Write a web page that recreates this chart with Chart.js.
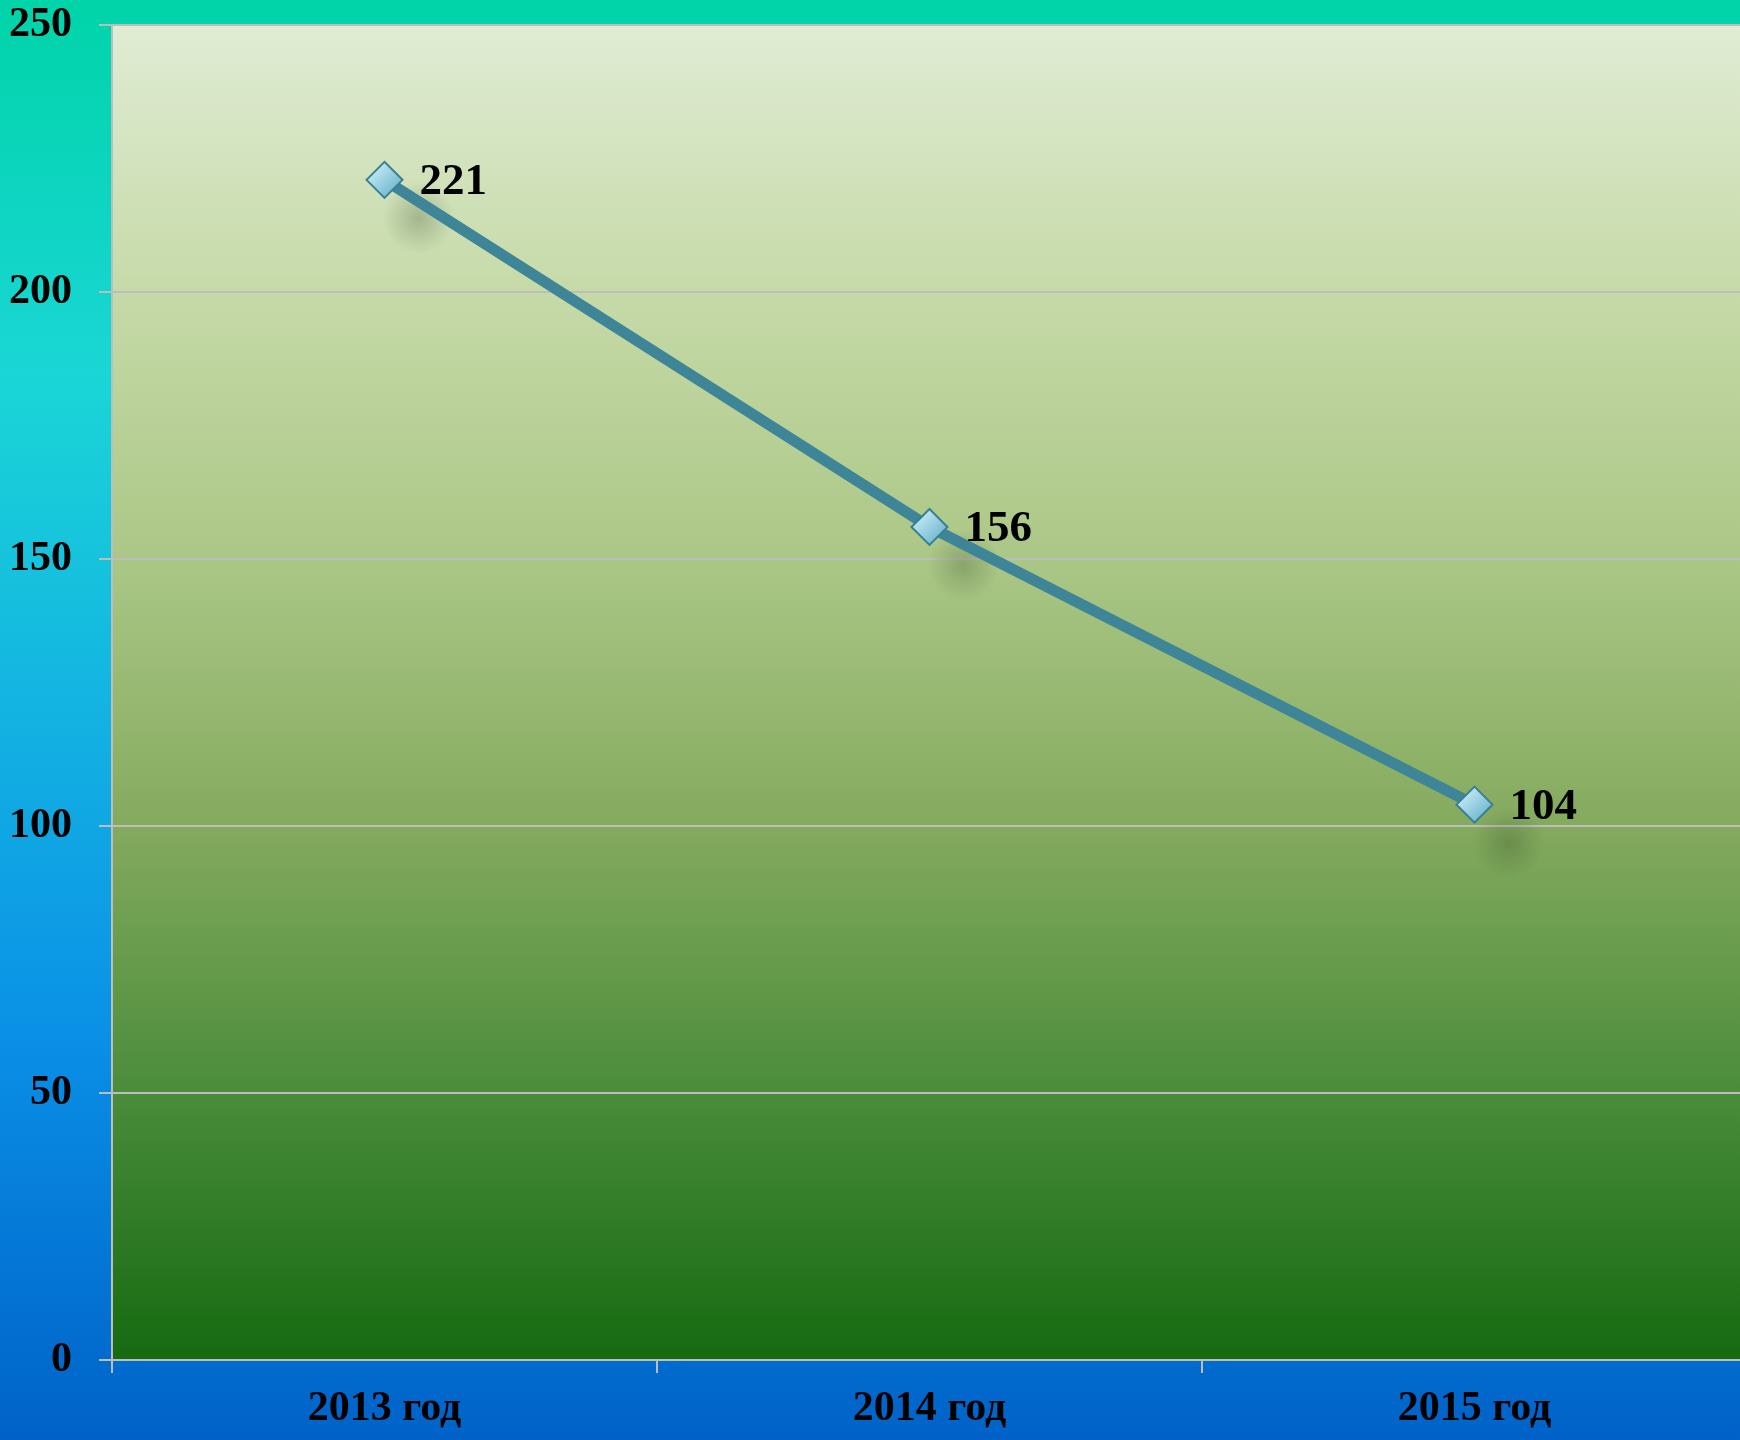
<!DOCTYPE html>
<html>
<head>
<meta charset="utf-8">
<script src="https://cdn.jsdelivr.net/npm/chart.js@4.4.1/dist/chart.umd.min.js"></script>
<style>
  html, body { margin: 0; padding: 0; overflow: hidden; }
  body {
    width: 1740px; height: 1440px;
    background: linear-gradient(to bottom, #00d4a8 0%, #1ad6d6 26%, #13b2e2 50%, #0a90e6 72%, #0062c8 100%);
  }
  canvas { display: block; }
</style>
</head>
<body>
<canvas id="lineCanvas" width="1747" height="1440"></canvas>
<script>
const categories = ["2013 год", "2014 год", "2015 год"];
const values = [221, 156, 104];
const yTicks = [0, 50, 100, 150, 200, 250];

const lineCanvas = document.getElementById("lineCanvas");

// gradient behind the plot + soft shadows under markers
const plotBackground = {
  id: "plotBackground",
  beforeDraw(chart) {
    const { ctx, chartArea: a } = chart;
    const g = ctx.createLinearGradient(0, a.top, 0, a.bottom);
    g.addColorStop(0, "#e0ecd4");
    g.addColorStop(0.2, "#c6daa8");
    g.addColorStop(0.4, "#abc786");
    g.addColorStop(0.6, "#84aa5e");
    g.addColorStop(0.8, "#4a8c3a");
    g.addColorStop(1, "#156a10");
    ctx.save();
    ctx.fillStyle = g;
    ctx.fillRect(a.left, a.top, a.right - a.left, a.bottom - a.top);
    ctx.restore();
  },
  beforeDatasetsDraw(chart) {
    const { ctx } = chart;
    chart.getDatasetMeta(0).data.forEach((pt) => {
      const cx = pt.x + 34, cy = pt.y + 38;
      const r = ctx.createRadialGradient(cx, cy, 0, cx, cy, 36);
      r.addColorStop(0, "rgba(40,60,30,0.25)");
      r.addColorStop(1, "rgba(40,60,30,0)");
      ctx.save();
      ctx.fillStyle = r;
      ctx.fillRect(cx - 36, cy - 36, 72, 72);
      ctx.restore();
    });
  },
};

const valueLabels = {
  id: "valueLabels",
  afterDatasetsDraw(chart) {
    const { ctx } = chart;
    ctx.save();
    ctx.font = "bold 45px 'Liberation Serif', serif";
    ctx.fillStyle = "#000";
    ctx.textAlign = "left";
    ctx.textBaseline = "alphabetic";
    chart.getDatasetMeta(0).data.forEach((pt, i) => {
      ctx.fillText(String(values[i]), pt.x + 35, pt.y + 14);
    });
    ctx.restore();
  },
};

// light diamond fill, brighter towards the upper left
function markerFill(context) {
  const el = context.element;
  if (!el || el.x === undefined) return "#98d2e6";
  const g = context.chart.ctx.createLinearGradient(el.x - 12, el.y - 12, el.x + 12, el.y + 12);
  g.addColorStop(0, "#c4eaf4");
  g.addColorStop(1, "#6fb6ce");
  return g;
}

const lineChart = new Chart(lineCanvas, {
  type: "line",
  data: {
    labels: categories,
    datasets: [
      {
        label: "Ряд 1",
        data: values,
        borderColor: "#3e8598",
        borderWidth: 11,
        pointStyle: "rectRot",
        pointRadius: 18,
        pointHoverRadius: 18,
        pointBackgroundColor: markerFill,
        pointBorderColor: "#3a7e92",
        pointBorderWidth: 2,
        tension: 0,
      },
    ],
  },
  options: {
    responsive: false,
    animation: false,
    layout: { padding: 0, autoPadding: false },
    plugins: { legend: { display: false }, tooltip: { enabled: false } },
    scales: {
      x: {
        offset: true,
        afterFit(scale) { scale.height = 80; scale.paddingLeft = 0; scale.paddingRight = 0; },
        grid: { display: true, drawOnChartArea: false, offset: true, tickLength: 13, color: "#bdbdbd", lineWidth: 2 },
        border: { color: "#bdbdbd", width: 2 },
        ticks: {
          padding: 11,
          color: "#000",
          font: { family: "'Liberation Serif', serif", size: 42, weight: "bold" },
        },
      },
      y: {
        min: 0,
        max: 250,
        afterFit(scale) { scale.width = 112; scale.paddingTop = 25; scale.paddingBottom = 0; },
        afterBuildTicks(scale) { scale.ticks = yTicks.map((v) => ({ value: v })); },
        grid: { color: "#bdbdbd", lineWidth: 2, tickLength: 13 },
        border: { color: "#bdbdbd", width: 2 },
        ticks: {
          padding: 27,
          color: "#000",
          font: { family: "'Liberation Serif', serif", size: 42, weight: "bold" },
        },
      },
    },
  },
  plugins: [plotBackground, valueLabels],
});
</script>
</body>
</html>
